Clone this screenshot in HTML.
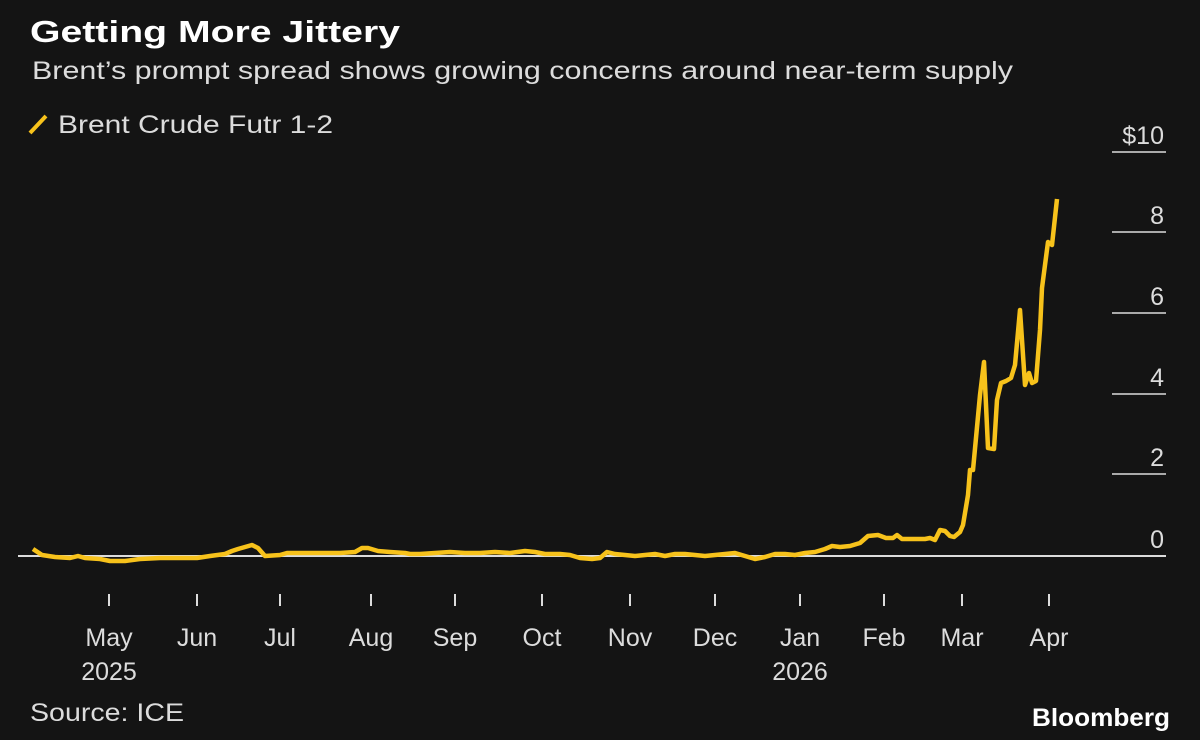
<!DOCTYPE html>
<html><head><meta charset="utf-8"><style>
body{margin:0;background:#141414;}
svg{display:block}
text{font-family:"Liberation Sans",sans-serif;fill:#dcdcdc}
</style></head><body>
<svg width="1200" height="740" viewBox="0 0 1200 740">
<rect width="1200" height="740" fill="#141414"/>
<text x="30" y="42" font-size="31" font-weight="bold" style="fill:#fff" textLength="370" lengthAdjust="spacingAndGlyphs">Getting More Jittery</text>
<text x="32" y="79" font-size="25" textLength="981" lengthAdjust="spacingAndGlyphs">Brent’s prompt spread shows growing concerns around near-term supply</text>
<line x1="30" y1="133" x2="46" y2="116" stroke="#f7c21b" stroke-width="4"/>
<text x="58" y="133" font-size="25" textLength="275" lengthAdjust="spacingAndGlyphs">Brent Crude Futr 1-2</text>
<g stroke="#dcdcdc" stroke-width="1.5">
<line x1="1112" y1="152" x2="1166" y2="152"/>
<line x1="1112" y1="232" x2="1166" y2="232"/>
<line x1="1112" y1="313" x2="1166" y2="313"/>
<line x1="1112" y1="394" x2="1166" y2="394"/>
<line x1="1112" y1="474" x2="1166" y2="474"/>
<line x1="18" y1="556" x2="1166" y2="556" stroke-width="2"/>
</g>
<g font-size="25" text-anchor="end">
<text x="1164" y="144">$10</text><text x="1164" y="224">8</text><text x="1164" y="305">6</text>
<text x="1164" y="386">4</text><text x="1164" y="466">2</text><text x="1164" y="548">0</text>
</g>
<g stroke="#dcdcdc" stroke-width="2">
<line x1="109" y1="594" x2="109" y2="606"/><line x1="197" y1="594" x2="197" y2="606"/>
<line x1="280" y1="594" x2="280" y2="606"/><line x1="371" y1="594" x2="371" y2="606"/>
<line x1="455" y1="594" x2="455" y2="606"/><line x1="542" y1="594" x2="542" y2="606"/>
<line x1="630" y1="594" x2="630" y2="606"/><line x1="715" y1="594" x2="715" y2="606"/>
<line x1="800" y1="594" x2="800" y2="606"/><line x1="884" y1="594" x2="884" y2="606"/>
<line x1="962" y1="594" x2="962" y2="606"/><line x1="1049" y1="594" x2="1049" y2="606"/>
</g>
<g font-size="25" text-anchor="middle">
<text x="109" y="646">May</text><text x="109" y="680">2025</text>
<text x="197" y="646">Jun</text><text x="280" y="646">Jul</text><text x="371" y="646">Aug</text>
<text x="455" y="646">Sep</text><text x="542" y="646">Oct</text><text x="630" y="646">Nov</text>
<text x="715" y="646">Dec</text><text x="800" y="646">Jan</text><text x="800" y="680">2026</text>
<text x="884" y="646">Feb</text><text x="962" y="646">Mar</text><text x="1049" y="646">Apr</text>
</g>
<text x="30" y="721" font-size="25" textLength="154" lengthAdjust="spacingAndGlyphs">Source: ICE</text>
<text x="1032" y="726" font-size="25" font-weight="bold" style="fill:#fff" textLength="138" lengthAdjust="spacingAndGlyphs">Bloomberg</text>
<polyline fill="none" stroke="#f7c21b" stroke-width="4.5" stroke-linejoin="round" points="
33,549 42,555 55,557 70,558 78,556 85,558 100,559 110,561 125,561 140,559 160,558 180,558 197,558 210,556 225,554 232,551 238,549 245,547 252,545 258,548 265,556 280,555 287,553 300,553 320,553 340,553 355,552 362,548 368,548 378,551 390,552 405,553 410,554 420,554 435,553 450,552 465,553 480,553 495,552 510,553 525,551 535,552 545,554 560,554 570,555 580,558 592,559 600,558 607,552 615,554 625,555 635,556 645,555 655,554 665,556 675,554 685,554 695,555 705,556 715,555 725,554 735,553 745,556 755,559 765,557 775,554 785,554 795,555 805,553 815,552 825,549 832,546 840,547 850,546 860,543 868,536 878,535 886,538 893,538 897,535 902,539 915,539 925,539 930,538 935,540 940,530 945,531 950,536 954,537 960,532 963,525 968,495 970,470 973,470 980,395 984,362 988,448 994,449 997,400 1001,383 1006,381 1011,378 1015,365 1020,310 1025,385 1029,373 1032,383 1036,381 1040,330 1042,288 1048,242 1052,245 1057,199"/>
</svg>
</body></html>
